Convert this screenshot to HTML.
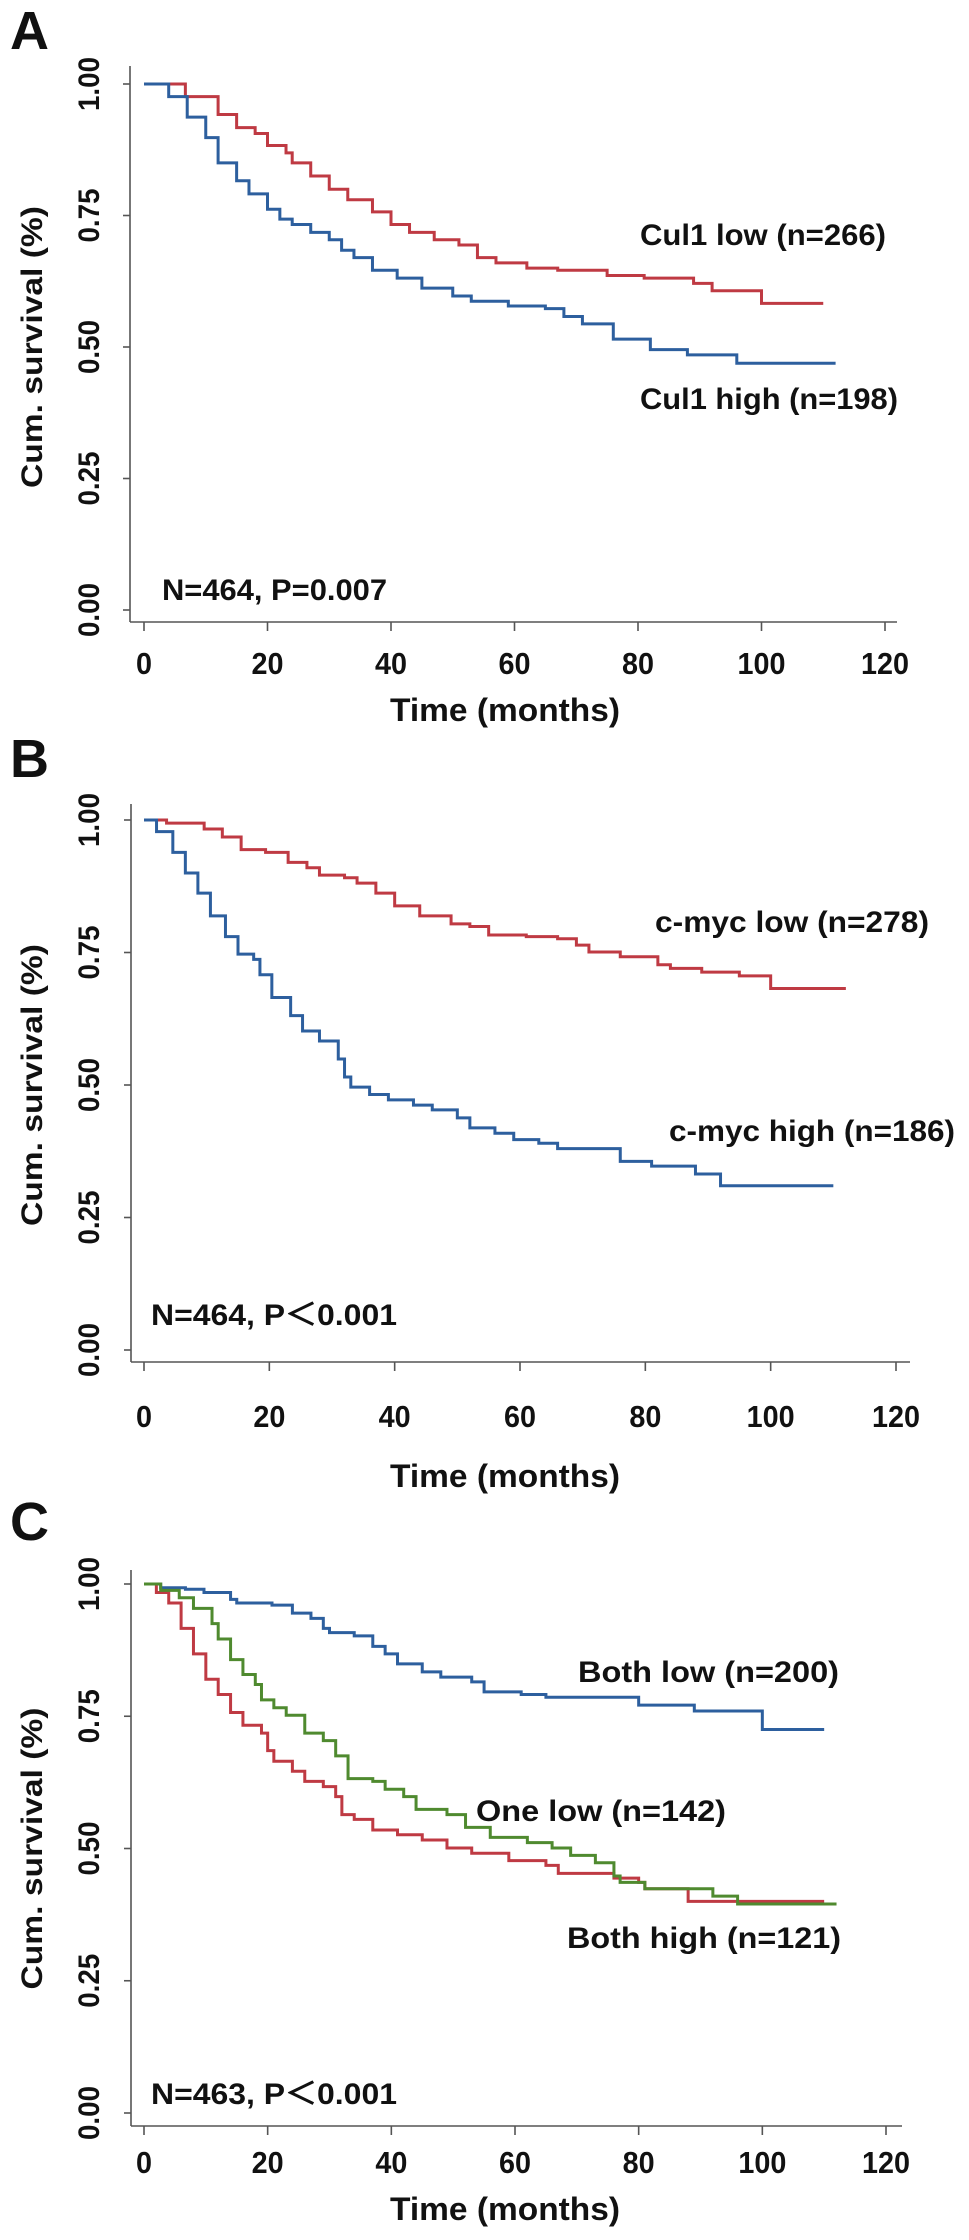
<!DOCTYPE html>
<html><head><meta charset="utf-8"><style>
html,body{margin:0;padding:0;background:#fff}
svg{display:block}
text{font-family:"Liberation Sans",Arial,sans-serif;font-weight:bold;fill:#111}
</style></head><body>
<svg id="fig" width="969" height="2240" viewBox="0 0 969 2240" xmlns="http://www.w3.org/2000/svg"></svg>
<script>
// ---- Panel A data ----
const aLowMonths = [0,6.7,12,15,18,20,23,24,27,30,33,37,40,43,47,51,54,57,62,67,75,81,89,92,100,110];
const aLowSurv   = [1,0.976,0.942,0.917,0.906,0.883,0.869,0.85,0.825,0.80,0.78,0.757,0.733,0.718,0.704,0.694,0.67,0.66,0.65,0.646,0.636,0.631,0.621,0.607,0.583,0.583];
const aHighMonths = [0,4,7,10,12,15,17,20,22,24,27,30,32,34,37,41,45,50,53,59,65,68,71,76,82,88,96,112];
const aHighSurv   = [1,0.976,0.937,0.898,0.85,0.816,0.791,0.762,0.743,0.733,0.718,0.704,0.684,0.67,0.646,0.631,0.612,0.597,0.587,0.578,0.573,0.558,0.544,0.515,0.495,0.485,0.469,0.469];
// ---- Panel B data ----
const bLowMonths = [0,3.6,9.6,12.5,15.5,19.4,23,26,28,32,34,37,40,44,49,52,55,61,66,69,71,76,82,84,89,95,100,112];
const bLowSurv   = [1,0.994,0.983,0.968,0.944,0.939,0.92,0.91,0.896,0.891,0.881,0.862,0.838,0.819,0.804,0.799,0.783,0.78,0.776,0.764,0.751,0.742,0.727,0.72,0.713,0.706,0.682,0.682];
const bHighMonths = [0,2,4.6,6.6,8.6,10.6,13,15,17.5,18.5,20.4,23.4,25.3,28,31,32,33,36,39,43,46,50,52,56,59,63,66,76,81,88,92,110];
const bHighSurv   = [1,0.978,0.939,0.90,0.862,0.819,0.78,0.747,0.737,0.708,0.665,0.631,0.602,0.583,0.549,0.515,0.496,0.482,0.472,0.462,0.453,0.438,0.419,0.409,0.397,0.39,0.38,0.356,0.347,0.332,0.31,0.31];
// ---- Panel C data ----
const cBothLowMonths = [0,2.7,6.7,9.7,14,15,20.7,24,27,29,30,34,37,39,41,45,48,53,55,61,65,80,89,100,110];
const cBothLowSurv   = [1,0.993,0.99,0.984,0.971,0.964,0.96,0.945,0.935,0.916,0.908,0.902,0.882,0.868,0.849,0.834,0.824,0.815,0.796,0.791,0.786,0.771,0.76,0.725,0.725];
const cOneLowMonths = [0,2.7,5.7,8,11,12,14,16,18,19,21,23,26,29,31,33,37,39,42,44,49,52,56,62,66,69,73,76,77,81,92,96,112];
const cOneLowSurv   = [1,0.988,0.974,0.954,0.925,0.896,0.857,0.829,0.81,0.781,0.766,0.752,0.718,0.704,0.675,0.632,0.627,0.612,0.598,0.574,0.564,0.54,0.521,0.511,0.501,0.487,0.473,0.448,0.436,0.424,0.41,0.395,0.395];
const cBothHighMonths = [0,2,4,6,8,10,12,14,16,19,20,21,24,26,29,31,32,34,37,41,45,49,53,59,65,67,76,80,81,88,110];
const cBothHighSurv   = [1,0.984,0.964,0.916,0.868,0.82,0.791,0.757,0.733,0.718,0.685,0.665,0.646,0.627,0.617,0.598,0.564,0.555,0.535,0.526,0.516,0.501,0.491,0.477,0.468,0.453,0.444,0.436,0.424,0.40,0.40];
// ---- shared axis ticks ----
const xTickValues = [0,20,40,60,80,100,120];
const yTickValues = [0,0.25,0.5,0.75,1];
const yTickLabels = ["0.00","0.25","0.50","0.75","1.00"];

const NS = "http://www.w3.org/2000/svg";
const svg = document.getElementById('fig');
const RED = "#bf3a43", BLUE = "#2d5f9e", GREEN = "#4f8a2f";

function mk(tag, attrs, parent, text) {
  const e = document.createElementNS(NS, tag);
  for (const k in attrs) e.setAttribute(k, attrs[k]);
  if (text !== undefined) e.textContent = text;
  (parent || svg).appendChild(e);
  return e;
}

function panel(cfg) {
  const g = mk('g', {});
  
  
  const sx = m => cfg.x0 + (cfg.x120 - cfg.x0) * m / 120;
  const sy = s => cfg.y0 + (cfg.y1 - cfg.y0) * s;

  const letter = mk('text', {x: 10, y: cfg.letterY, 'font-size': 54}, g, cfg.letter);
  
  

  const axes = mk('g', {stroke: '#555', 'stroke-width': 1.6, fill: 'none'}, g);
  
  
  mk('line', {x1: cfg.axisX, y1: cfg.axisTop, x2: cfg.axisX, y2: cfg.xAxisY}, axes);
  mk('line', {x1: cfg.axisX, y1: cfg.xAxisY, x2: cfg.axisRight, y2: cfg.xAxisY}, axes);

  yTickValues.forEach((v, i) => {
    const y = sy(v);
    mk('line', {x1: cfg.axisX - 7, y1: y, x2: cfg.axisX, y2: y}, axes);
    const t = mk('text', {x: 0, y: 0, 'font-size': 30, 'text-anchor': 'middle',
      transform: `translate(99,${y}) rotate(-90)`, textLength: 54, lengthAdjust: 'spacingAndGlyphs'}, g, yTickLabels[i]);
    
    
  });
  xTickValues.forEach(v => {
    const x = sx(v);
    mk('line', {x1: x, y1: cfg.xAxisY, x2: x, y2: cfg.xAxisY + 9}, axes);
    const w = String(v).length * 16;
    const t = mk('text', {x: x, y: cfg.tickLabelY + 11, 'font-size': 31, 'text-anchor': 'middle',
      textLength: w, lengthAdjust: 'spacingAndGlyphs'}, g, String(v));
    
    
  });
  const xt = mk('text', {x: 505, y: cfg.titleY + 12, 'font-size': 32, 'text-anchor': 'middle',
    textLength: 230, lengthAdjust: 'spacingAndGlyphs'}, g, 'Time (months)');
  
  
  const yc = (cfg.y0 + cfg.y1) / 2;
  const yt = mk('text', {x: 0, y: 0, 'font-size': 30, 'text-anchor': 'middle',
    transform: `translate(42,${yc}) rotate(-90)`, textLength: 282, lengthAdjust: 'spacingAndGlyphs'}, g, 'Cum. survival (%)');
  
  

  cfg.series.forEach(s => {
    let d = `M${sx(s.m[0])},${sy(s.v[0])}`;
    for (let i = 1; i < s.m.length; i++) {
      d += ` H${sx(s.m[i])} V${sy(s.v[i])}`;
    }
    const p = mk('path', {d: d, stroke: s.color, 'stroke-width': 3, fill: 'none', 'stroke-linejoin': 'miter'}, g);
    
    
  });
  cfg.labels.forEach(l => {
    const t = mk('text', {x: l.x, y: l.y + 11, 'font-size': 30, textLength: l.w, lengthAdjust: 'spacingAndGlyphs'}, g, l.t);
    
    
  });
}

panel({id: 'a', letter: 'A', letterY: 49, x0: 144, x120: 885, y1: 84, y0: 610,
  axisX: 130, axisTop: 66, xAxisY: 622, axisRight: 897, tickLabelY: 663, titleY: 709,
  series: [
    {name: 'curve-cul1-low', m: aLowMonths, v: aLowSurv, color: RED},
    {name: 'curve-cul1-high', m: aHighMonths, v: aHighSurv, color: BLUE}
  ],
  labels: [
    {name: 'label-cul1-low', t: 'Cul1 low (n=266)', x: 640, y: 234, w: 246},
    {name: 'label-cul1-high', t: 'Cul1 high (n=198)', x: 640, y: 398, w: 258},
    {name: 'stats-annotation-a', t: 'N=464, P=0.007', x: 162, y: 589, w: 225}
  ]});

panel({id: 'b', letter: 'B', letterY: 777, x0: 144, x120: 896, y1: 820, y0: 1350,
  axisX: 131, axisTop: 804, xAxisY: 1362, axisRight: 910, tickLabelY: 1416, titleY: 1475,
  series: [
    {name: 'curve-cmyc-low', m: bLowMonths, v: bLowSurv, color: RED},
    {name: 'curve-cmyc-high', m: bHighMonths, v: bHighSurv, color: BLUE}
  ],
  labels: [
    {name: 'label-cmyc-low', t: 'c-myc low (n=278)', x: 655, y: 921, w: 274},
    {name: 'label-cmyc-high', t: 'c-myc high (n=186)', x: 669, y: 1130, w: 286},
    {name: 'stats-annotation-b', t: 'N=464, P\uFF1C0.001', x: 151, y: 1314, w: 246}
  ]});

panel({id: 'c', letter: 'C', letterY: 1540, x0: 144, x120: 886, y1: 1584, y0: 2113,
  axisX: 131, axisTop: 1570, xAxisY: 2126, axisRight: 902, tickLabelY: 2162, titleY: 2208,
  series: [
    {name: 'curve-both-low', m: cBothLowMonths, v: cBothLowSurv, color: BLUE},
    {name: 'curve-both-high', m: cBothHighMonths, v: cBothHighSurv, color: RED},
    {name: 'curve-one-low', m: cOneLowMonths, v: cOneLowSurv, color: GREEN}
  ],
  labels: [
    {name: 'label-both-low', t: 'Both low (n=200)', x: 578, y: 1671, w: 261},
    {name: 'label-one-low', t: 'One low (n=142)', x: 476, y: 1810, w: 250},
    {name: 'label-both-high', t: 'Both high (n=121)', x: 567, y: 1937, w: 274},
    {name: 'stats-annotation-c', t: 'N=463, P\uFF1C0.001', x: 151, y: 2093, w: 246}
  ]});
</script>
</body></html>
